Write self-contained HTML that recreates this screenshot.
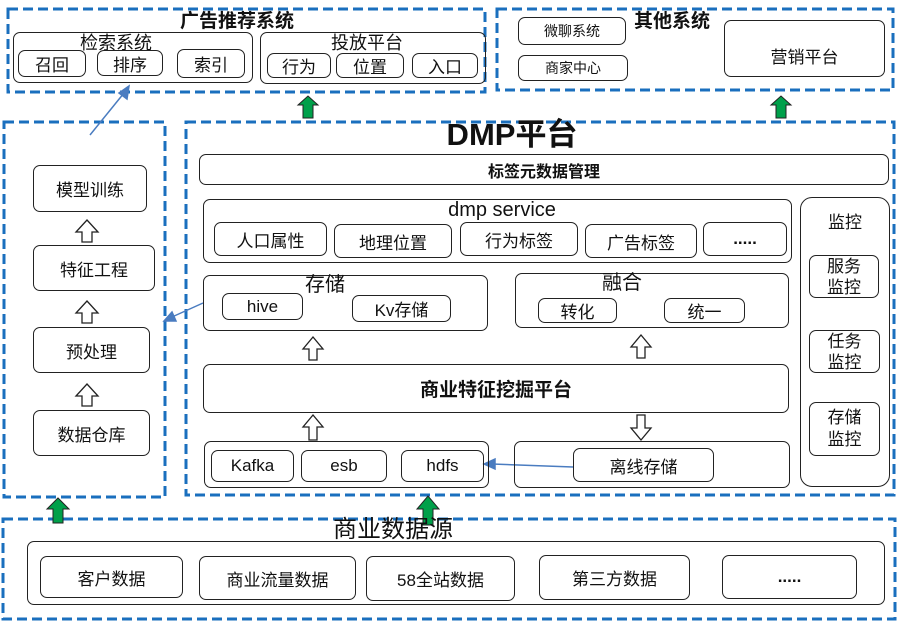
<!DOCTYPE html>
<html><head><meta charset="utf-8"><style>
body{margin:0;width:900px;height:625px;position:relative;background:#fff;font-family:"Liberation Sans","Noto Sans CJK SC",sans-serif;overflow:hidden}
.b{position:absolute;border:1.5px solid #222;border-radius:7px;box-sizing:border-box;display:flex;align-items:center;justify-content:center;font-size:17px;color:#111;background:transparent}
.t{position:absolute;white-space:nowrap;color:#111;transform:translateX(-50%);line-height:1}
svg{position:absolute;left:0;top:0}
</style></head><body>
<svg width="900" height="625">
<g fill="none" stroke="#1a6fbe" stroke-width="3" stroke-dasharray="10 5">
<rect x="8" y="9" width="477" height="83"/>
<rect x="497" y="9" width="396" height="81"/>
<rect x="4" y="122" width="161" height="375"/>
<rect x="186" y="122" width="708" height="373"/>
<rect x="3" y="519" width="892" height="100"/>
</g>
<g fill="#00a04a" stroke="#222" stroke-width="1">
<path d="M303,118 v-13 h-5 l10,-9 l10,9 h-5 v13z"/>
<path d="M776,118 v-13 h-5 l10,-9 l10,9 h-5 v13z"/>
<path d="M53,523 v-14 h-6 l11,-11 l11,11 h-6 v14z"/>
<path d="M423,525 v-16 h-6 l11,-13 l11,13 h-6 v16z"/>
</g>
<g fill="#fff" stroke="#222" stroke-width="1.3">
<path d="M82,242 v-10 h-6 l11,-12 l11,12 h-6 v10z"/>
<path d="M82,323 v-10 h-6 l11,-12 l11,12 h-6 v10z"/>
<path d="M82,406 v-10 h-6 l11,-12 l11,12 h-6 v10z"/>
<path d="M309,360 v-11 h-6 l10,-12 l10,12 h-6 v11z"/>
<path d="M637,358 v-11 h-6 l10,-12 l10,12 h-6 v11z"/>
<path d="M309,440 v-13 h-6 l10,-12 l10,12 h-6 v13z"/>
<path d="M637,415 v13 h-6 l10,12 l10,-12 h-6 v-13z"/>
</g>
<g stroke="#4a7cc0" stroke-width="1.5" fill="#4a7cc0">
<line x1="90" y1="135" x2="124" y2="93"/><path d="M129,86 l-2,13 l-8,-6z"/>
<line x1="573" y1="467" x2="492" y2="464"/><path d="M484,464 l11,-5 l0,10z"/>
<line x1="203" y1="303" x2="172" y2="317"/><path d="M164,321 l8,-9 l4,9z"/>
</g>
</svg>
<div class="t" style="left:237px;top:12px;font-size:19px;font-weight:bold">广告推荐系统</div>
<div class="b" style="left:13px;top:32px;width:240px;height:51px"></div>
<div class="t" style="left:116px;top:34px;font-size:18px">检索系统</div>
<div class="b" style="left:18px;top:50px;width:68px;height:27px">召回</div>
<div class="b" style="left:97px;top:50px;width:66px;height:26px">排序</div>
<div class="b" style="left:177px;top:49px;width:68px;height:29px">索引</div>
<div class="b" style="left:260px;top:32px;width:226px;height:52px"></div>
<div class="t" style="left:367px;top:34px;font-size:18px">投放平台</div>
<div class="b" style="left:267px;top:53px;width:64px;height:25px">行为</div>
<div class="b" style="left:336px;top:53px;width:68px;height:25px">位置</div>
<div class="b" style="left:412px;top:53px;width:66px;height:25px">入口</div>

<div class="t" style="left:672px;top:12px;font-size:19px;font-weight:bold">其他系统</div>
<div class="b" style="left:518px;top:17px;width:108px;height:28px;font-size:14px">微聊系统</div>
<div class="b" style="left:518px;top:55px;width:110px;height:26px;font-size:14px">商家中心</div>
<div class="b" style="left:724px;top:20px;width:161px;height:57px;padding-top:14px">营销平台</div>

<div class="b" style="left:33px;top:165px;width:114px;height:47px">模型训练</div>
<div class="b" style="left:33px;top:245px;width:122px;height:46px">特征工程</div>
<div class="b" style="left:33px;top:327px;width:117px;height:46px">预处理</div>
<div class="b" style="left:33px;top:410px;width:117px;height:46px">数据仓库</div>

<div class="t" style="left:512px;top:119px;font-size:31px;font-weight:bold">DMP平台</div>
<div class="b" style="left:199px;top:154px;width:690px;height:31px;font-weight:bold;font-size:16px">标签元数据管理</div>
<div class="b" style="left:203px;top:199px;width:589px;height:64px"></div>
<div class="t" style="left:502px;top:200px;font-size:20px">dmp service</div>
<div class="b" style="left:214px;top:222px;width:113px;height:34px">人口属性</div>
<div class="b" style="left:334px;top:224px;width:118px;height:34px">地理位置</div>
<div class="b" style="left:460px;top:222px;width:118px;height:34px">行为标签</div>
<div class="b" style="left:585px;top:224px;width:112px;height:34px">广告标签</div>
<div class="b" style="left:703px;top:222px;width:84px;height:34px;font-weight:bold">.....</div>
<div class="b" style="left:800px;top:197px;width:90px;height:290px;border-radius:12px;align-items:flex-start;padding-top:10px">监控</div>
<div class="b" style="left:809px;top:255px;width:70px;height:43px;line-height:21px;text-align:center">服务<br>监控</div>
<div class="b" style="left:809px;top:330px;width:71px;height:43px;line-height:21px;text-align:center">任务<br>监控</div>
<div class="b" style="left:809px;top:402px;width:71px;height:54px;line-height:22px;text-align:center">存储<br>监控</div>
<div class="b" style="left:203px;top:275px;width:285px;height:56px"></div>
<div class="t" style="left:325px;top:275px;font-size:20px">存储</div>
<div class="b" style="left:222px;top:293px;width:81px;height:27px">hive</div>
<div class="b" style="left:352px;top:295px;width:99px;height:27px">Kv存储</div>
<div class="b" style="left:515px;top:273px;width:274px;height:55px"></div>
<div class="t" style="left:622px;top:273px;font-size:20px">融合</div>
<div class="b" style="left:538px;top:298px;width:79px;height:25px">转化</div>
<div class="b" style="left:664px;top:298px;width:81px;height:25px">统一</div>
<div class="b" style="left:203px;top:364px;width:586px;height:49px;font-weight:bold;font-size:19px">商业特征挖掘平台</div>
<div class="b" style="left:204px;top:441px;width:285px;height:47px"></div>
<div class="b" style="left:211px;top:450px;width:83px;height:32px">Kafka</div>
<div class="b" style="left:301px;top:450px;width:86px;height:32px">esb</div>
<div class="b" style="left:401px;top:450px;width:83px;height:32px">hdfs</div>
<div class="b" style="left:514px;top:441px;width:276px;height:47px"></div>
<div class="b" style="left:573px;top:448px;width:141px;height:34px">离线存储</div>

<div class="t" style="left:393px;top:518px;font-size:24px">商业数据源</div>
<div class="b" style="left:27px;top:541px;width:858px;height:64px"></div>
<div class="b" style="left:40px;top:556px;width:143px;height:42px">客户数据</div>
<div class="b" style="left:199px;top:556px;width:157px;height:44px">商业流量数据</div>
<div class="b" style="left:366px;top:556px;width:149px;height:45px">58全站数据</div>
<div class="b" style="left:539px;top:555px;width:151px;height:45px">第三方数据</div>
<div class="b" style="left:722px;top:555px;width:135px;height:44px;font-weight:bold">.....</div>
</body></html>
